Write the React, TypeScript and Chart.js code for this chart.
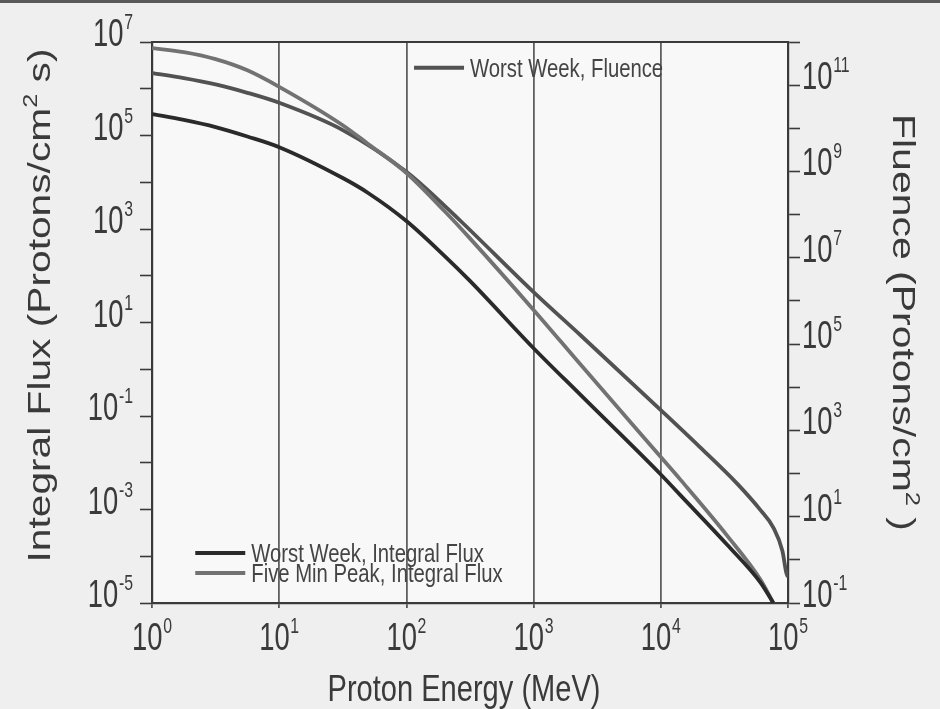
import React, { useEffect, useRef } from "react";
import { Chart, registerables } from "chart.js";

Chart.register(...registerables);

// ---------------- data ----------------
const worstWeekEnergies = [1, 1.78, 3.16, 5.62, 10, 31.6, 50, 100, 200, 316, 1000, 2340, 10000, 14300, 33100, 61000, 76700];
const worstWeekFlux = [2.88e5, 2.15e5, 1.51e5, 9.5e4, 5.62e4, 1.23e4, 5.9e3, 1.48e3, 263, 77.6, 2.82, 0.282, 5.6e-3, 2.0e-3, 1.78e-4, 2.7e-5, 1e-5];

const fiveMinEnergies = [1, 1.78, 3.16, 5.62, 10, 31.6, 50, 100, 200, 316, 1000, 2340, 10000, 14300, 33100, 61000, 76700];
const fiveMinPeakFlux = [7.4e6, 6.08e6, 4.3e6, 2.48e6, 1.1e6, 1.66e5, 6.6e4, 1.58e4, 2.4e3, 631, 18.6, 1.26, 1.32e-2, 4.3e-3, 2.8e-4, 3.1e-5, 1e-5];

const fluenceEnergies = [1, 1.78, 3.16, 5.62, 10, 31.6, 100, 200, 316, 1000, 2340, 10000, 20000, 40000, 61000, 76700, 90400, 97000, 100000];
const worstWeekFluence = [1.9e11, 1.46e11, 1.04e11, 6.65e10, 3.9e10, 9.1e9, 9.8e8, 1.6e8, 4.4e7, 1.6e6, 1.6e5, 2950, 427, 57.5, 14, 5.6, 1.6, 0.5, 0.4];

const seriesLabels = ["Worst Week, Integral Flux", "Five Min Peak, Integral Flux", "Worst Week, Fluence"];

const xTickExponents = [0, 1, 2, 3, 4, 5];
const xTickLabels = ["0", "1", "2", "3", "4", "5"];
const fluxTickExponents = [-5, -4, -3, -2, -1, 0, 1, 2, 3, 4, 5, 6, 7];
const fluxTickLabels = ["-5", "", "-3", "", "-1", "", "1", "", "3", "", "5", "", "7"];
const fluenceTickExponents = [-1, 0, 1, 2, 3, 4, 5, 6, 7, 8, 9, 10, 11, 12];
const fluenceTickLabels = ["-1", "", "1", "", "3", "", "5", "", "7", "", "9", "", "11", ""];

const xTitle = "Proton Energy (MeV)";
const fluxTitle = ["Integral Flux (Protons/cm", "2", " s)"];
const fluenceTitle = ["Fluence (Protons/cm", "2", " )"];

// ---------------- styles ----------------
const FONT = "'Liberation Sans', Arial, Helvetica, sans-serif";
const TEXT = "#3a3a3a";
const AXIS = "#3a3a3a";
const COLORS = ["#2a2a2a", "#727272", "#525252"];
const CONDENSE = 0.72;

type Part = { text: string; size: number; rise?: number; gap?: number };

function drawRich(
  ctx: CanvasRenderingContext2D,
  parts: Part[],
  x: number,
  y: number,
  opts: { align: "left" | "center" | "right"; sx?: number; width?: number; rotate?: number; color: string }
) {
  ctx.save();
  ctx.translate(x, y);
  if (opts.rotate) ctx.rotate(opts.rotate);
  ctx.textBaseline = "alphabetic";
  ctx.textAlign = "left";
  ctx.fillStyle = opts.color;
  let total = 0;
  const widths = parts.map((p) => {
    ctx.font = `${p.size}px ${FONT}`;
    const w = ctx.measureText(p.text).width;
    total += w + (p.gap || 0);
    return w;
  });
  const sx = opts.width ? opts.width / total : opts.sx || 1;
  ctx.scale(sx, 1);
  let cx = opts.align === "left" ? 0 : opts.align === "center" ? -total / 2 : -total;
  parts.forEach((p, i) => {
    ctx.font = `${p.size}px ${FONT}`;
    ctx.fillText(p.text, cx, -(p.rise || 0));
    cx += widths[i] + (p.gap || 0);
  });
  ctx.restore();
}

const tickParts = (exp: string): Part[] => [
  { text: "10", size: 38, gap: 1 },
  { text: exp, size: 22, rise: 17 },
];

const toPoints = (xs: number[], ys: number[]) => xs.map((x, i) => ({ x, y: ys[i] }));

const decadeTicks = (exps: number[]) => (scale: any) => {
  scale.ticks = exps.map((e) => ({ value: Math.pow(10, e) }));
};

const backgroundPlugin = {
  id: "bg",
  beforeDraw(chart: any) {
    const { ctx, width, height, chartArea: a } = chart;
    ctx.save();
    ctx.fillStyle = "#efefef";
    ctx.fillRect(0, 0, width, height);
    ctx.fillStyle = "#5a5a5a";
    ctx.fillRect(0, 0, width, 3);
    ctx.fillStyle = "#f8f8f8";
    ctx.fillRect(a.left, a.top, a.right - a.left, a.bottom - a.top);
    ctx.restore();
  },
  afterDraw(chart: any) {
    const { ctx, chartArea: a } = chart;
    ctx.save();
    ctx.strokeStyle = AXIS;
    ctx.lineWidth = 2;
    ctx.beginPath();
    ctx.moveTo(a.left, a.top);
    ctx.lineTo(a.right, a.top);
    ctx.stroke();
    ctx.restore();
  },
};

const textPlugin = {
  id: "axisTexts",
  afterDraw(chart: any) {
    const { ctx, chartArea: a, scales } = chart;
    xTickExponents.forEach((e, i) => {
      const px = scales.x.getPixelForValue(Math.pow(10, e));
      drawRich(ctx, tickParts(xTickLabels[i]), px, a.bottom + 47, { align: "center", sx: CONDENSE, color: TEXT });
    });
    fluxTickExponents.forEach((e, i) => {
      if (!fluxTickLabels[i]) return;
      const py = scales.y.getPixelForValue(Math.pow(10, e));
      drawRich(ctx, tickParts(fluxTickLabels[i]), a.left - 19, py + 4, { align: "right", sx: CONDENSE, color: TEXT });
    });
    fluenceTickExponents.forEach((e, i) => {
      if (!fluenceTickLabels[i]) return;
      const py = scales.y1.getPixelForValue(Math.pow(10, e));
      drawRich(ctx, tickParts(fluenceTickLabels[i]), a.right + 14, py + 4, { align: "left", sx: CONDENSE, color: TEXT });
    });
    const cxp = (a.left + a.right) / 2;
    const cyp = (a.top + a.bottom) / 2;
    drawRich(ctx, [{ text: xTitle, size: 37 }], cxp - 6, a.bottom + 98, { align: "center", width: 273, color: TEXT });
    drawRich(
      ctx,
      [
        { text: fluxTitle[0], size: 32 },
        { text: fluxTitle[1], size: 20, rise: 13 },
        { text: fluxTitle[2], size: 32 },
      ],
      a.left - 102,
      cyp - 17,
      { align: "center", width: 514, rotate: -Math.PI / 2, color: TEXT }
    );
    drawRich(
      ctx,
      [
        { text: fluenceTitle[0], size: 32 },
        { text: fluenceTitle[1], size: 20, rise: 13 },
        { text: fluenceTitle[2], size: 32 },
      ],
      a.right + 105,
      cyp,
      { align: "center", width: 417, rotate: Math.PI / 2, color: TEXT }
    );
  },
};

const legendPlugin = {
  id: "inlineLegends",
  afterDatasetsDraw(chart: any) {
    const { ctx, chartArea: a } = chart;
    const w = a.right - a.left;
    const h = a.bottom - a.top;
    const items = [
      { ds: 2, fx: 0.412, fy: 0.046 },
      { ds: 0, fx: 0.068, fy: 0.911 },
      { ds: 1, fx: 0.068, fy: 0.9465 },
    ];
    items.forEach((it) => {
      const ds = chart.data.datasets[it.ds];
      const x = a.left + it.fx * w;
      const y = a.top + it.fy * h;
      ctx.save();
      ctx.strokeStyle = ds.borderColor;
      ctx.lineWidth = 4;
      ctx.beginPath();
      ctx.moveTo(x, y);
      ctx.lineTo(x + 50, y);
      ctx.stroke();
      ctx.restore();
      drawRich(ctx, [{ text: ds.label, size: 26 }], x + 56, y + 9, { align: "left", sx: 0.78, color: "#444" });
    });
  },
};

export default function App() {
  const ref = useRef<HTMLCanvasElement | null>(null);

  useEffect(() => {
    if (!ref.current) return;
    const lineStyle = { borderWidth: 3.8, pointRadius: 0, cubicInterpolationMode: "monotone" };
    const chart = new Chart(ref.current, {
      type: "line",
      data: {
        datasets: [
          { label: seriesLabels[0], data: toPoints(worstWeekEnergies, worstWeekFlux), yAxisID: "y", borderColor: COLORS[0], ...lineStyle },
          { label: seriesLabels[1], data: toPoints(fiveMinEnergies, fiveMinPeakFlux), yAxisID: "y", borderColor: COLORS[1], ...lineStyle },
          { label: seriesLabels[2], data: toPoints(fluenceEnergies, worstWeekFluence), yAxisID: "y1", borderColor: COLORS[2], ...lineStyle },
        ],
      },
      options: {
        responsive: false,
        animation: false,
        devicePixelRatio: 1,
        layout: { padding: { top: 42, left: 0, right: 0, bottom: 0 } },
        plugins: { legend: { display: false }, tooltip: { enabled: false } },
        scales: {
          x: {
            type: "logarithmic",
            position: "bottom",
            min: 1,
            max: 1e5,
            afterBuildTicks: decadeTicks(xTickExponents),
            afterFit: (s: any) => {
              s.height = 106;
            },
            grid: { color: "#606060", lineWidth: 1.8, drawTicks: true, tickLength: 5, tickColor: "#555", tickWidth: 1.8 },
            border: { display: true, color: AXIS, width: 2.2 },
            ticks: { display: false, autoSkip: false },
            title: { display: false },
          },
          y: {
            type: "logarithmic",
            position: "left",
            min: 1e-5,
            max: 1e7,
            afterBuildTicks: decadeTicks(fluxTickExponents),
            afterFit: (s: any) => {
              s.width = 152;
            },
            grid: { drawOnChartArea: false, drawTicks: true, tickLength: 12, color: AXIS, tickColor: AXIS, tickWidth: 1.6 },
            border: { display: true, color: AXIS, width: 2.2 },
            ticks: { display: false, autoSkip: false },
            title: { display: false },
          },
          y1: {
            type: "logarithmic",
            position: "right",
            min: 0.1,
            max: 1e12,
            afterBuildTicks: decadeTicks(fluenceTickExponents),
            afterFit: (s: any) => {
              s.width = 152;
            },
            grid: { drawOnChartArea: false, drawTicks: true, tickLength: 12, color: AXIS, tickColor: AXIS, tickWidth: 1.6 },
            border: { display: true, color: AXIS, width: 2.2 },
            ticks: { display: false, autoSkip: false },
            title: { display: false },
          },
        },
      } as any,
      plugins: [backgroundPlugin, legendPlugin, textPlugin],
    });
    return () => chart.destroy();
  }, []);

  return (
    <div style={{ position: "fixed", left: 0, top: 0, width: 940, height: 709, background: "#efefef" }}>
      <canvas ref={ref} width={940} height={709} style={{ display: "block", width: 940, height: 709 }} />
    </div>
  );
}
